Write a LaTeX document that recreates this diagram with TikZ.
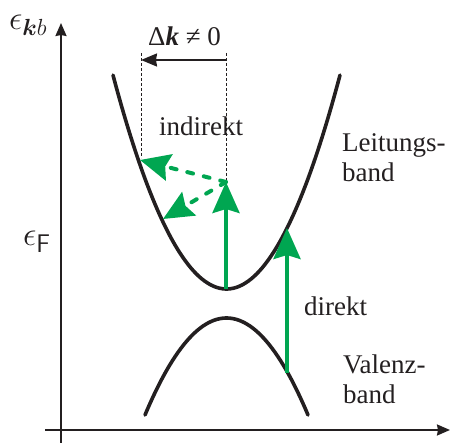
\documentclass[tikz,border=0pt]{standalone}
\usepackage{amsmath,bm}
\usepackage{fontspec}
\setmainfont{Liberation Serif}
\usetikzlibrary{arrows.meta}
\definecolor{exgreen}{RGB}{0,166,81}
\definecolor{inkblack}{RGB}{35,31,32}
\begin{document}
\begin{tikzpicture}
  [x=1pt,y=-1pt,
   every node/.style={inner sep=0pt,text=inkblack,font=\fontsize{27}{30}\selectfont},
   axis/.style={draw=inkblack,line width=2pt,-{Stealth[length=13pt,width=11pt,inset=1pt]}},
   band/.style={draw=inkblack,line width=3.6pt,line cap=round},
   excite/.style={draw=exgreen,line width=4pt,-{Stealth[length=31pt,width=27pt,inset=4pt]}},
   phonon/.style={draw=exgreen,line width=4pt,line cap=round,dash pattern=on 6pt off 11pt,
                  -{Stealth[length=30pt,width=27pt,inset=4pt]}},
   guide/.style={draw=inkblack,line width=0.9pt,dash pattern=on 3pt off 2pt},
   label/.style={anchor=base west},
   bandname/.style={anchor=north west,align=left}]
  \useasboundingbox (0,0) rectangle (451,444);
  \coordinate (ybot) at (61,443);
  \coordinate (ytop) at (61,23);
  \coordinate (xbeg) at (45,430);
  \coordinate (xend) at (450,430);
  \draw[axis] (ybot) -- (ytop);
  \draw[axis] (xbeg) -- (xend);
  \node[label] (ekb) at (9,30) {\scalebox{1.35}{$\epsilon_{\bm{k}b}$}};
  \node[label] (ef) at (23,246) {\scalebox{1.35}{$\epsilon_{\mathsf{F}}$}};
  \draw[band] plot[domain=113:340,samples=80] (\x,{289-0.0166*(\x-226.5)^2});
  \draw[band] plot[domain=145:308,samples=60] (\x,{318+0.0146*(\x-226.5)^2});
  \coordinate (cbmin) at (226,289);
  \coordinate (kick) at (226,182);
  \coordinate (scatA) at (140,160);
  \coordinate (scatB) at (163,219);
  \coordinate (vbtop) at (287,373);
  \coordinate (cbhit) at (287,228);
  \coordinate (dkR) at (226,60);
  \coordinate (dkL) at (141,60);
  \coordinate (guideLtop) at (141,53);
  \coordinate (guideLbot) at (141,158);
  \coordinate (guideRtop) at (226,53);
  \draw[guide] (guideLtop) -- (guideLbot);
  \draw[guide] (guideRtop) -- (kick);
  \draw[draw=inkblack,line width=2pt,-{Stealth[length=16pt,width=13pt,inset=1pt]}] (dkR) -- (dkL);
  \node[label] (dk) at (148,46) {Δ\textbf{\textit{k}} ≠ 0};
  \draw[phonon] (kick) -- (scatA);
  \draw[phonon] (kick) -- (scatB);
  \draw[excite] (cbmin) -- (kick);
  \draw[excite] (vbtop) -- (cbhit);
  \node[label] (indirekt) at (159,136) {indirekt};
  \node[label] (direkt) at (304,316) {direkt};
  \node[bandname] (cb) at (342,133) {Leitungs-\\band};
  \node[bandname] (vb) at (343,355) {Valenz-\\band};
\end{tikzpicture}
\end{document}
